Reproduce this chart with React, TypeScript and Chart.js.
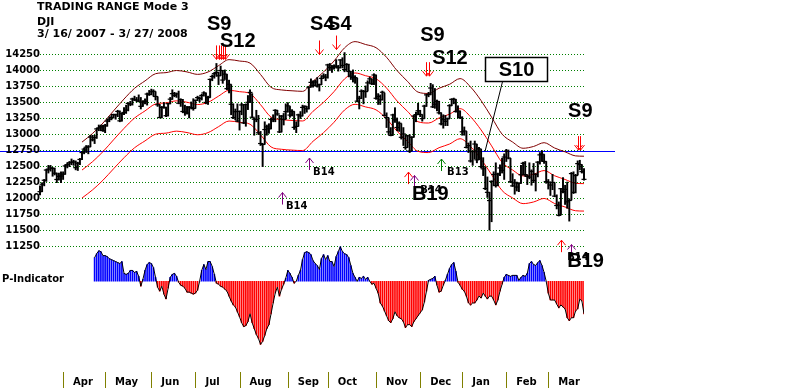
import React, { useEffect, useRef } from 'react';
import { Chart, registerables } from 'chart.js';

Chart.register(...registerables);

// ---------- DATA ----------
// trading days 3/16/2007 .. 3/27/2008, index 0..259
const monthLabels = ['Apr', 'May', 'Jun', 'Jul', 'Aug', 'Sep', 'Oct', 'Nov', 'Dec', 'Jan', 'Feb', 'Mar'];
const monthStartIdx = [11, 31, 53, 74, 95, 118, 137, 160, 181, 201, 222, 242];
const yTickValues = [11250, 11500, 11750, 12000, 12250, 12500, 12750, 13000, 13250, 13500, 13750, 14000, 14250];
const referenceLevel = 12750;

const closes = [
  12110, 12226, 12288, 12447, 12461, 12481, 12470, 12398, 12300, 12348, 12354,
  12383, 12511, 12530, 12560, 12569, 12573, 12484, 12553, 12612, 12720, 12773, 12803, 12808, 12961, 12919, 12953, 13089, 13105, 13121, 13063,
  13136, 13211, 13241, 13265, 13313, 13309, 13362, 13215, 13326, 13346, 13383, 13487, 13476, 13556, 13542, 13539, 13522, 13441, 13507, 13521, 13633, 13628,
  13668, 13676, 13595, 13466, 13267, 13424, 13424, 13295, 13482, 13553, 13639, 13612, 13635, 13490, 13546, 13361, 13352, 13337, 13427, 13422, 13408,
  13535, 13577, 13565, 13611, 13650, 13502, 13577, 13861, 13907, 13951, 13971, 13918, 14000, 13851, 13944, 13717, 13785, 13473, 13265, 13358, 13212,
  13362, 13463, 13182, 13468, 13504, 13658, 13271, 13240, 13236, 13029, 12861, 12846, 13079, 13121, 13090, 13236, 13236, 13379, 13322, 13042, 13289, 13239, 13358,
  13448, 13305, 13363, 13113, 13128, 13308, 13291, 13424, 13442, 13403, 13739, 13815, 13766, 13821, 13759, 13779, 13878, 13913, 13896,
  14088, 14047, 14044, 14066, 14065, 14043, 14165, 14079, 14015, 14093, 13985, 13913, 13893, 13889, 13522, 13567, 13677, 13676, 13671, 13807, 13870, 13793, 13930,
  13567, 13596, 13543, 13661, 13300, 13266, 13043, 12988, 13307, 13231, 13111, 13177, 12958, 13010, 12799, 12981, 12743, 12958, 13289, 13312, 13372,
  13315, 13249, 13445, 13620, 13625, 13727, 13433, 13474, 13518, 13340, 13168, 13233, 13207, 13246, 13451, 13550, 13552, 13360, 13366, 13265,
  13044, 13057, 12800, 12827, 12589, 12735, 12853, 12606, 12778, 12501, 12466, 12159, 12099, 11971, 12270, 12378, 12207, 12384, 12480, 12443, 12650,
  12743, 12635, 12265, 12200, 12247, 12182, 12240, 12374, 12552, 12376, 12348, 12337, 12427, 12285, 12381, 12570, 12684, 12694, 12582, 12266,
  12258, 12213, 12254, 12040, 11894, 11740, 12156, 12110, 12145, 11951, 11972, 12392, 12099, 12361, 12548, 12533, 12422, 12302,
];

const highs = [
  12200, 12250, 12300, 12460, 12520, 12520, 12490, 12480, 12400, 12400, 12420,
  12420, 12530, 12560, 12580, 12620, 12600, 12590, 12570, 12630, 12740, 12790, 12830, 12830, 12990, 12990, 12990, 13100, 13150, 13150, 13150,
  13160, 13240, 13280, 13300, 13320, 13320, 13380, 13370, 13340, 13420, 13460, 13500, 13520, 13570, 13600, 13580, 13620, 13580, 13530, 13560, 13650, 13690,
  13710, 13700, 13670, 13590, 13470, 13440, 13500, 13430, 13490, 13580, 13700, 13660, 13650, 13680, 13560, 13550, 13460, 13440, 13440, 13510, 13560,
  13540, 13600, 13590, 13630, 13670, 13650, 13600, 13870, 13930, 13970, 14110, 13970, 14070, 14000, 14010, 13940, 13850, 13780, 13480, 13400, 13480,
  13370, 13490, 13470, 13480, 13610, 13700, 13640, 13260, 13380, 13300, 13050, 12860, 13200, 13150, 13170, 13260, 13310, 13390, 13380, 13300, 13300, 13330, 13480,
  13500, 13440, 13390, 13360, 13200, 13320, 13360, 13460, 13450, 13440, 13750, 13870, 13840, 13850, 13890, 13790, 13920, 13950, 13940,
  14100, 14110, 14080, 14090, 14170, 14080, 14170, 14200, 14280, 14110, 14100, 13990, 14010, 13920, 13880, 13600, 13700, 13690, 13760, 13840, 13900, 13870, 13950,
  13930, 13640, 13620, 13680, 13650, 13340, 13260, 13110, 13320, 13420, 13260, 13200, 13170, 13110, 13000, 12990, 13000, 12970, 13300, 13350, 13490,
  13380, 13310, 13460, 13630, 13660, 13800, 13780, 13720, 13540, 13520, 13340, 13310, 13300, 13260, 13470, 13560, 13570, 13550, 13450, 13370,
  13280, 13120, 13050, 12870, 12900, 12750, 12900, 12850, 12800, 12770, 12640, 12500, 12340, 12100, 12280, 12420, 12560, 12400, 12530, 12630, 12700,
  12770, 12760, 12630, 12390, 12300, 12260, 12250, 12520, 12570, 12580, 12370, 12560, 12450, 12550, 12390, 12580, 12720, 12750, 12690, 12580,
  12300, 12260, 12380, 12250, 12060, 11950, 12160, 12330, 12210, 12260, 12000, 12410, 12420, 12380, 12590, 12600, 12530, 12470,
];

const lows = [
  12060, 12110, 12200, 12270, 12400, 12430, 12350, 12370, 12250, 12290, 12250,
  12300, 12380, 12480, 12500, 12530, 12520, 12450, 12440, 12530, 12610, 12700, 12720, 12700, 12810, 12900, 12860, 12940, 13060, 13060, 13050,
  13030, 13130, 13200, 13230, 13260, 13240, 13280, 13200, 13210, 13310, 13330, 13370, 13450, 13460, 13530, 13510, 13510, 13400, 13440, 13480, 13460, 13610,
  13620, 13600, 13540, 13440, 13260, 13260, 13410, 13280, 13290, 13480, 13550, 13590, 13580, 13480, 13440, 13340, 13300, 13320, 13260, 13400, 13380,
  13410, 13530, 13510, 13540, 13600, 13480, 13470, 13580, 13840, 13880, 13910, 13780, 13920, 13800, 13860, 13700, 13650, 13310, 13250, 13230, 13200,
  13070, 13310, 13170, 13130, 13390, 13500, 13260, 12990, 13200, 13000, 12830, 12500, 12850, 12990, 13020, 13090, 13200, 13200, 13300, 13030, 13040, 13150, 13240,
  13350, 13270, 13290, 13080, 13030, 13130, 13250, 13290, 13330, 13350, 13400, 13740, 13740, 13760, 13740, 13680, 13780, 13880, 13840,
  13880, 14000, 13970, 14020, 14040, 13990, 14040, 14040, 13980, 14000, 13900, 13860, 13820, 13800, 13510, 13400, 13560, 13480, 13580, 13680, 13800, 13780, 13780,
  13550, 13470, 13470, 13540, 13290, 13110, 13000, 12980, 12990, 13190, 13060, 13050, 12930, 12830, 12770, 12800, 12720, 12750, 12960, 13200, 13310,
  13280, 13210, 13250, 13440, 13590, 13620, 13420, 13410, 13370, 13320, 13150, 13100, 13140, 13140, 13250, 13450, 13480, 13350, 13260, 13250,
  12990, 12990, 12790, 12720, 12570, 12520, 12620, 12560, 12610, 12480, 12360, 12140, 12020, 11510, 11640, 12200, 12180, 12200, 12360, 12400, 12300,
  12580, 12620, 12250, 12190, 12070, 12120, 12110, 12240, 12370, 12350, 12220, 12310, 12210, 12250, 12120, 12340, 12540, 12580, 12550, 12240,
  12150, 12050, 12140, 12030, 11840, 11730, 11750, 12090, 11910, 11850, 11650, 11980, 12080, 12090, 12370, 12450, 12400, 12290,
];

// trading-range bands (21-day average and +/-3.5% bands), read every 5 days
const bandIdx = [20, 25, 30, 35, 40, 45, 50, 55, 60, 65, 70, 75, 80, 85, 90, 95, 100, 105, 110, 115, 120, 125, 130, 135, 140, 145, 150, 155, 160, 165, 170, 175, 180, 185, 190, 195, 200, 205, 210, 215, 220, 225, 230, 235, 240, 245, 250, 255, 259];
const bandUpper = [12883, 13017, 13181, 13370, 13555, 13722, 13838, 13950, 13967, 14000, 13978, 13940, 13977, 14076, 14170, 14148, 14116, 13938, 13738, 13697, 13684, 13675, 13832, 13977, 14149, 14354, 14451, 14406, 14356, 14206, 13998, 13830, 13663, 13642, 13724, 13785, 13874, 13743, 13531, 13273, 13007, 12884, 12787, 12815, 12874, 12791, 12731, 12668, 12663];
const bandMid = [12447, 12577, 12735, 12918, 13097, 13258, 13370, 13478, 13495, 13527, 13505, 13469, 13504, 13600, 13691, 13670, 13639, 13467, 13273, 13234, 13221, 13213, 13364, 13504, 13671, 13869, 13962, 13919, 13871, 13726, 13525, 13362, 13201, 13181, 13260, 13319, 13405, 13278, 13073, 12824, 12567, 12448, 12355, 12382, 12439, 12358, 12300, 12240, 12235];
const bandLower = [12011, 12137, 12289, 12466, 12639, 12794, 12902, 13006, 13023, 13054, 13032, 12998, 13031, 13124, 13212, 13192, 13162, 12996, 12808, 12771, 12758, 12751, 12896, 13031, 13193, 13384, 13473, 13432, 13386, 13246, 13052, 12894, 12739, 12720, 12796, 12853, 12936, 12813, 12615, 12375, 12127, 12012, 11923, 11949, 12004, 11925, 11870, 11812, 11807];

// P-Indicator, starting at day index 26
const pStartIdx = 26;
const pValues = [
  24, 28, 31, 30, 26, 26, 25, 23, 22, 21,
  20, 19, 18, 20, 8, 7, 8, 11, 11, 9,
  10, 5, -5, 2, 11, 17, 19, 18, 14, 4,
  -6, -10, -5, -13, -18, -7, 4, 7, 8, 5,
  -1, -4, -5, -7, -11, -11, -12, -13, -12, -9,
  0, 11, 17, 12, 20, 20, 15, 7, -2, -3,
  -5, -6, -8, -10, -15, -20, -24, -26, -31, -36,
  -42, -46, -45, -41, -33, -42, -48, -54, -58, -64,
  -61, -55, -48, -44, -33, -22, -12, -6, -15, -8,
  -3, 3, 11, 8, 4, -2, 0, 6, 11, 22,
  29, 30, 29, 27, 21, 18, 16, 12, 23, 27,
  22, 26, 20, 20, 15, 25, 30, 35, 30, 28,
  27, 24, 16, 8, 4, 0, 4, 3, 5, 2,
  4, 0, -3, -2, -7, -12, -22, -25, -30, -35,
  -40, -42, -38, -31, -35, -37, -38, -41, -47, -44,
  -44, -46, -41, -38, -35, -32, -29, -21, -10, 1,
  2, 3, 5, -4, -11, -10, -4, 1, 7, 13,
  17, 19, 10, -1, -4, -8, -10, -15, -22, -24,
  -22, -22, -19, -15, -17, -12, -15, -18, -15, -15,
  -19, -24, -19, -10, -3, 4, 7, 6, 5, 6,
  6, 6, 1, 4, 6, 5, 8, 18, 20, 17,
  16, 19, 21, 16, 9, 0, -12, -19, -19, -19,
  -23, -27, -24, -26, -28, -37, -40, -37, -37, -30,
  -28, -18, -20, -33,
];

// signals
const sellArrowIdx = [84, 85, 86, 87, 88, 133, 141, 184, 185, 256, 257];
const sellArrowPrice = [14173, 14173, 14173, 14173, 14173, 14250, 14327, 13912, 13912, 12758, 12758];
const buyArrowIdx = [115, 128, 175, 178, 191, 248, 253];
const buyArrowPrice = [12096, 12635, 12415, 12362, 12619, 11353, 11285];
const buyArrowType = ['B14', 'B14', 'B19', 'B14', 'B13', 'B19', 'B14'];

const signalText = ['B14', 'B14', 'B13', 'B14', 'B14', 'S9', 'S12', 'S4', 'S4', 'S9', 'S12', 'S9', 'B19', 'B19'];
const signalIdx = [130, 117.1, 193.8, 181, 251, 79.5, 85.7, 128.6, 136.7, 181, 186.7, 251.4, 177.1, 251];
const signalPrice = [12373, 11835, 12373, 12096, 11050, 14635, 14373, 14635, 14635, 14465, 14096, 13281, 11973, 10927];

const s10Text = 'S10';
const s10Box = { leftIdx: 211.9, rightIdx: 241.4, topPrice: 14208, bottomPrice: 13839 };
const s10Pointer = { fromIdx: 220.3, toIdx: 211.9, toPrice: 12740 };

const titleLines = ['TRADING RANGE Mode 3', 'DJI', '3/ 16/ 2007 - 3/ 27/ 2008'];
const panelLabel = 'P-Indicator';

// ---------- STYLE ----------
const arrowColors: Record<string, string> = { S: '#ff0000', B19: '#ff0000', B14: '#800080', B13: '#008000' };
const bigFont = 'bold 20px "Liberation Sans", Arial, sans-serif';
const smallFont = 'bold 10px "DejaVu Sans", sans-serif';
const isBigLabel = (t: string) => t.startsWith('S') || t === 'B19';

function drawArrow(ctx: CanvasRenderingContext2D, x: number, tipY: number, len: number, dir: number, color: string) {
  const xs = Math.round(x) + 0.5;
  ctx.save();
  ctx.strokeStyle = color;
  ctx.lineWidth = 1;
  ctx.beginPath();
  ctx.moveTo(xs, tipY - dir * len);
  ctx.lineTo(xs, tipY);
  ctx.moveTo(xs - 4, tipY - dir * 5);
  ctx.lineTo(xs, tipY);
  ctx.lineTo(xs + 4, tipY - dir * 5);
  ctx.stroke();
  ctx.restore();
}

const annotationPlugin = {
  id: 'peerlessAnnotations',
  beforeDraw(chart: any) {
    const { ctx, chartArea, scales } = chart;
    const y = Math.round(scales.y.getPixelForValue(referenceLevel)) + 0.5;
    ctx.save();
    ctx.strokeStyle = '#0000ff';
    ctx.lineWidth = 1;
    ctx.beginPath();
    ctx.moveTo(0, y);
    ctx.lineTo(chartArea.right + 31, y);
    ctx.stroke();
    ctx.restore();
  },
  afterDatasetsDraw(chart: any) {
    const { ctx, scales } = chart;
    const px = (i: number) => scales.x.getPixelForValue(i);
    const py = (p: number) => scales.y.getPixelForValue(p);

    // S10 pointer + box
    ctx.save();
    ctx.strokeStyle = '#000';
    ctx.lineWidth = 1;
    ctx.beginPath();
    ctx.moveTo(px(s10Pointer.fromIdx), py(s10Box.bottomPrice));
    ctx.lineTo(px(s10Pointer.toIdx), py(s10Pointer.toPrice));
    ctx.stroke();
    const bx = Math.round(px(s10Box.leftIdx)) + 0.5;
    const by = Math.round(py(s10Box.topPrice)) + 0.5;
    const bw = Math.round(px(s10Box.rightIdx) - px(s10Box.leftIdx));
    const bh = Math.round(py(s10Box.bottomPrice) - py(s10Box.topPrice));
    ctx.fillStyle = '#fff';
    ctx.fillRect(bx, by, bw, bh);
    ctx.lineWidth = 1.5;
    ctx.strokeRect(bx, by, bw, bh);
    ctx.fillStyle = '#000';
    ctx.font = bigFont;
    ctx.textAlign = 'center';
    ctx.textBaseline = 'middle';
    ctx.fillText(s10Text, bx + bw / 2, by + bh / 2 + 1);
    ctx.restore();

    // arrows
    sellArrowIdx.forEach((i, k) => drawArrow(ctx, px(i), py(sellArrowPrice[k]), 14, 1, arrowColors.S));
    buyArrowIdx.forEach((i, k) => drawArrow(ctx, px(i), py(buyArrowPrice[k]), 12, -1, arrowColors[buyArrowType[k]]));

    // signal labels (small first, big on top)
    ctx.save();
    ctx.fillStyle = '#000';
    ctx.textAlign = 'left';
    ctx.textBaseline = 'alphabetic';
    const order = signalText.map((_, k) => k).sort((a, b) => Number(isBigLabel(signalText[a])) - Number(isBigLabel(signalText[b])));
    order.forEach((k) => {
      ctx.font = isBigLabel(signalText[k]) ? bigFont : smallFont;
      ctx.fillText(signalText[k], px(signalIdx[k]), py(signalPrice[k]));
    });
    ctx.restore();
  },
  afterDraw(chart: any) {
    const { ctx, scales } = chart;
    ctx.save();
    // month separators on the date axis, at the axis' own ticks
    const xs = scales.x;
    ctx.strokeStyle = '#808000';
    ctx.lineWidth = 1;
    ctx.beginPath();
    xs.ticks.forEach((t: any) => {
      const x = Math.round(xs.getPixelForValue(t.value)) + 0.5;
      ctx.moveTo(x, xs.top + 1);
      ctx.lineTo(x, xs.top + 17);
    });
    ctx.stroke();

    ctx.fillStyle = '#000';
    ctx.textAlign = 'left';
    ctx.textBaseline = 'alphabetic';
    ctx.font = 'bold 11px "DejaVu Sans", sans-serif';
    ctx.fillText(titleLines[0], 37, 10);
    ctx.fillText(titleLines[1], 37, 25);
    ctx.fillText(titleLines[2], 37, 37);
    ctx.font = smallFont;
    ctx.fillText(panelLabel, 2, scales.yp.getPixelForValue(0) + 1);
    ctx.restore();
  },
};

export default function App() {
  const ref = useRef<HTMLCanvasElement>(null);

  useEffect(() => {
    const canvas = ref.current;
    if (!canvas) return;
    const n = Math.min(closes.length, highs.length, lows.length);
    const dayIdx = Array.from({ length: n }, (_, i) => i);

    const chart = new Chart(canvas, {
      type: 'line',
      data: {
        datasets: [
          {
            type: 'line',
            label: 'P-Indicator line',
            yAxisID: 'yp',
            data: pValues.map((v, k) => ({ x: pStartIdx + k, y: v })),
            borderColor: '#000',
            borderWidth: 1,
            pointRadius: 0,
            tension: 0,
          } as any,
          {
            type: 'line',
            label: 'Close',
            yAxisID: 'y',
            data: dayIdx.map((i) => ({ x: i, y: closes[i] })),
            showLine: false,
            pointStyle: 'line',
            pointRadius: 2.5,
            pointBorderWidth: 1.2,
            borderColor: '#000',
            backgroundColor: '#000',
            clip: false,
          } as any,
          {
            type: 'bar',
            label: 'High-Low',
            yAxisID: 'y',
            data: dayIdx.map((i) => ({ x: i, y: [lows[i], highs[i]] })),
            backgroundColor: '#000',
            barThickness: 1.3,
            grouped: false,
            clip: false,
          } as any,
          {
            type: 'line',
            label: 'Upper band',
            yAxisID: 'y',
            data: bandIdx.map((i, k) => ({ x: i, y: bandUpper[k] })),
            borderColor: '#800000',
            borderWidth: 1,
            pointRadius: 0,
            cubicInterpolationMode: 'monotone',
          } as any,
          {
            type: 'line',
            label: 'Middle band',
            yAxisID: 'y',
            data: bandIdx.map((i, k) => ({ x: i, y: bandMid[k] })),
            borderColor: '#ff0000',
            borderWidth: 1,
            pointRadius: 0,
            cubicInterpolationMode: 'monotone',
          } as any,
          {
            type: 'line',
            label: 'Lower band',
            yAxisID: 'y',
            data: bandIdx.map((i, k) => ({ x: i, y: bandLower[k] })),
            borderColor: '#ff0000',
            borderWidth: 1,
            pointRadius: 0,
            cubicInterpolationMode: 'monotone',
          } as any,
          {
            type: 'bar',
            label: 'P-Indicator',
            yAxisID: 'yp',
            data: pValues.map((v, k) => ({ x: pStartIdx + k, y: v })),
            backgroundColor: (c: any) => (c.raw && c.raw.y >= 0 ? '#0000ff' : '#ff0000'),
            barThickness: 1,
            grouped: false,
          } as any,
        ],
      },
      options: {
        animation: false,
        responsive: false,
        events: [],
        layout: { padding: { left: 0, right: 216, top: 0, bottom: 0 } },
        plugins: { legend: { display: false }, tooltip: { enabled: false }, title: { display: false } },
        scales: {
          x: {
            type: 'linear',
            position: 'bottom',
            min: 0,
            max: 259,
            offset: false,
            afterBuildTicks: (s: any) => {
              s.ticks = monthStartIdx.map((v) => ({ value: v }));
            },
            afterFit: (s: any) => {
              s.height = 21;
              s.paddingLeft = 0;
              s.paddingRight = 0;
            },
            ticks: {
              autoSkip: false,
              maxRotation: 0,
              minRotation: 0,
              align: 'start',
              labelOffset: 10,
              padding: -3,
              color: '#000',
              font: { family: 'DejaVu Sans', size: 10, weight: 'bold' },
              callback: (v: any) => {
                const k = monthStartIdx.indexOf(Number(v));
                return k >= 0 ? monthLabels[k] : '';
              },
            },
            grid: { display: false },
            border: { display: false },
          },
          y: {
            type: 'linear',
            position: 'left',
            min: 9311.5,
            max: 15019.2,
            afterBuildTicks: (s: any) => {
              s.ticks = yTickValues.map((v) => ({ value: v }));
            },
            afterFit: (s: any) => {
              s.width = 40;
              s.paddingTop = 0;
              s.paddingBottom = 0;
            },
            ticks: {
              color: '#000',
              padding: 0,
              font: { family: 'DejaVu Sans', size: 10, weight: 'bold' },
              callback: (v: any) => String(v),
            },
            grid: { color: '#008000', drawTicks: false, lineWidth: 1 },
            border: { display: false, dash: [1, 2] },
          },
          yp: { type: 'linear', display: false, min: -91, max: 280 },
        },
      } as any,
      plugins: [annotationPlugin],
    });

    return () => chart.destroy();
  }, []);

  return (
    <div style={{ position: 'fixed', left: 0, top: 0, width: 800, height: 392, background: '#fff' }}>
      <canvas ref={ref} width={800} height={392} style={{ display: 'block' }} />
    </div>
  );
}
